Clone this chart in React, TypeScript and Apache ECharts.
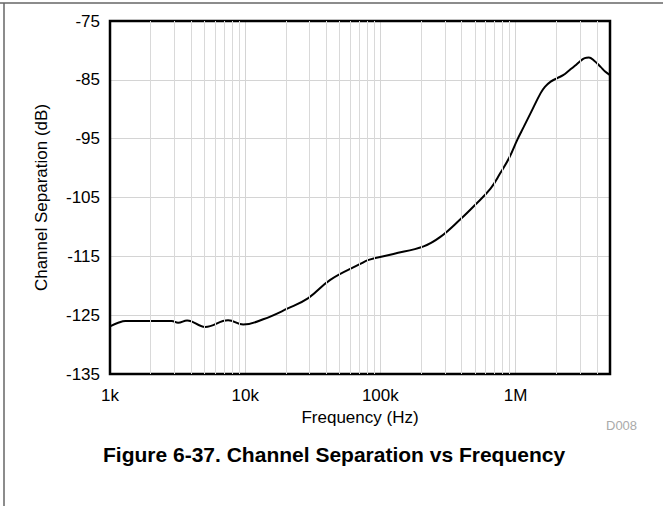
import React, { useEffect, useRef } from "react";
import * as echarts from "echarts";

// Frequency (Hz) and channel separation (dB)
const freqHz = [
  1000, 1150, 1300, 2000, 2860, 3190, 3720, 5050, 7480, 9670, 13600, 20500,
  29300, 42600, 71000, 82000, 125000, 209000, 278000, 391000, 500000,
  653000, 774000, 900000, 1030000, 1150000, 1290000, 1530000,
  1650000, 1820000, 2040000, 2250000, 2490000, 2750000, 3020000, 3250000,
  3490000, 3800000, 4260000, 4600000, 5000000,
];
const separationDb = [
  -126.9, -126.3, -126.0, -126.0, -126.0, -126.3, -125.9, -127.0, -125.85,
  -126.6, -125.7, -123.9, -122.1, -119.0, -116.3, -115.6, -114.6,
  -113.3, -111.7, -108.7, -106.3, -103.5, -100.8, -98.2, -95.2,
  -93.0, -90.7, -87.3, -86.2, -85.3, -84.7, -84.2, -83.4, -82.6, -81.8,
  -81.3, -81.2, -81.7, -82.8, -83.6, -84.2,
];

// Axis settings
const xMin = 1000;
const xMax = 5000000;
const yMin = -135;
const yMax = -75;
const yStep = 10;
const xTickLabels: Record<number, string> = {
  1000: "1k",
  10000: "10k",
  100000: "100k",
  1000000: "1M",
};
const minorGridFreqs = [
  2000, 3000, 4000, 5000, 6000, 7000, 8000, 9000,
  20000, 30000, 40000, 50000, 60000, 70000, 80000, 90000,
  200000, 300000, 400000, 500000, 600000, 700000, 800000, 900000,
  2000000, 3000000, 4000000,
];

const FONT = '"Liberation Sans", Arial, sans-serif';

export default function App() {
  const ref = useRef<HTMLDivElement>(null);

  useEffect(() => {
    document.body.style.margin = "0";
    if (!ref.current) return;
    const chart = echarts.init(ref.current, null, { renderer: "svg" });
    const data = freqHz.map((f, i) => [f, separationDb[i]]);

    chart.setOption({
      animation: false,
      backgroundColor: "#fff",
      grid: {
        left: 110,
        top: 21,
        width: 500,
        height: 353,
        show: true,
        borderColor: "#000",
        borderWidth: 2.5,
        backgroundColor: "transparent",
        z: 5,
      },
      xAxis: {
        type: "log",
        logBase: 10,
        min: xMin,
        max: xMax,
        name: "Frequency (Hz)",
        nameLocation: "middle",
        nameGap: 29,
        nameTextStyle: { fontFamily: FONT, fontSize: 17, color: "#000" },
        axisLine: { show: false },
        axisTick: { show: false },
        axisLabel: {
          fontFamily: FONT,
          fontSize: 17,
          color: "#000",
          margin: 13,
          formatter: (v: number) => xTickLabels[Math.round(v)] ?? "",
        },
        splitLine: {
          show: true,
          showMinLine: false,
          showMaxLine: false,
          lineStyle: { color: "#d4d4d4", width: 1 },
        },
      },
      yAxis: {
        type: "value",
        min: yMin,
        max: yMax,
        interval: yStep,
        name: "Channel Separation (dB)",
        nameLocation: "middle",
        nameGap: 60,
        nameTextStyle: { fontFamily: FONT, fontSize: 17, color: "#000" },
        axisLine: { show: false },
        axisTick: { show: false },
        axisLabel: {
          fontFamily: FONT,
          fontSize: 17,
          color: "#000",
          margin: 10,
        },
        splitLine: {
          show: true,
          showMinLine: false,
          showMaxLine: false,
          lineStyle: { color: "#d4d4d4", width: 1 },
        },
      },
      series: [
        {
          type: "line",
          data: [],
          z: 1,
          silent: true,
          markLine: {
            silent: true,
            symbol: ["none", "none"],
            label: { show: false },
            lineStyle: { color: "#d9d9d9", width: 1, type: "solid" },
            data: minorGridFreqs.map((f) => ({ xAxis: f })),
          },
        },
        {
          type: "line",
          data,
          z: 3,
          smooth: 0.4,
          showSymbol: false,
          lineStyle: { color: "#000", width: 2 },
        },
      ],
      graphic: [
        {
          type: "line",
          shape: { x1: 0, y1: 3, x2: 663, y2: 3 },
          style: { stroke: "#666", lineWidth: 1.5 },
        },
        {
          type: "line",
          shape: { x1: 4, y1: 3, x2: 4, y2: 506 },
          style: { stroke: "#666", lineWidth: 1.5 },
        },
        {
          type: "text",
          left: 606,
          top: 419,
          style: {
            text: "D008",
            fontFamily: FONT,
            fontSize: 13,
            fill: "#aaaaaa",
          },
        },
        {
          type: "text",
          left: 103,
          top: 444,
          style: {
            text: "Figure 6-37. Channel Separation vs Frequency",
            fontFamily: FONT,
            fontSize: 21,
            fontWeight: "bold",
            fill: "#000",
          },
        },
      ],
    });

    return () => chart.dispose();
  }, []);

  return <div ref={ref} style={{ width: 663, height: 506 }} />;
}
